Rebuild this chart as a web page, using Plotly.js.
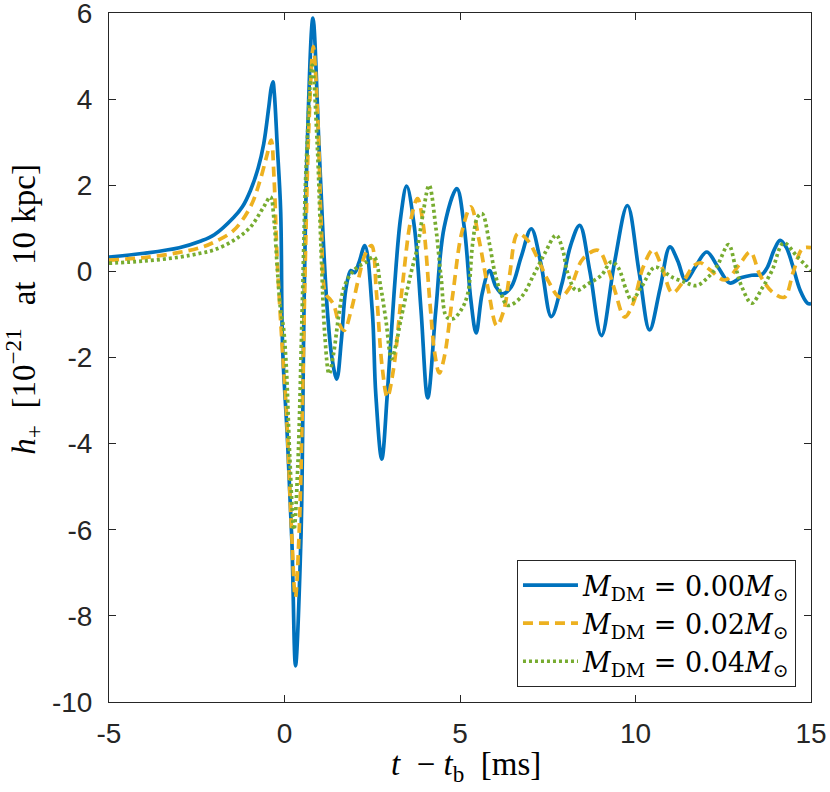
<!DOCTYPE html>
<html>
<head>
<meta charset="utf-8">
<script src="https://cdn.plot.ly/plotly-3.0.1.min.js"></script>
<style>
  html, body { margin: 0; padding: 0; background: #fff; }
  #chart { width: 830px; height: 792px; }
</style>
</head>
<body>
<div id="chart"></div>
<script>
// ── Data (t - t_b in ms, h+ in 1e-21) ────────────────────────────────
const t00 = [-5, -4, -3, -2.4, -2, -1.45, -1.2, -0.97, -0.75, -0.59, -0.45, -0.38, -0.33, -0.29, -0.21, -0.11,
  -0.07, -0.04, 0.086, 0.21, 0.314, 0.466, 0.514, 0.54, 0.65, 0.81, 0.98, 1.1, 1.22, 1.35, 1.49, 1.62, 1.75,
  1.89, 2.0, 2.12, 2.29, 2.5, 2.6, 2.77, 2.93, 3.12, 3.31, 3.48, 3.7, 3.89, 4.08, 4.31, 4.55, 4.91, 5.12, 5.31,
  5.46, 5.63, 5.84, 6.02, 6.2, 6.46, 6.74, 7.03, 7.3, 7.6, 7.9, 8.15, 8.41, 8.7, 9.03, 9.4, 9.77, 10.1, 10.4,
  10.7, 10.98, 11.2, 11.43, 11.7, 12.03, 12.35, 12.69, 13.0, 13.31, 13.6, 13.76, 13.95, 14.12, 14.3, 14.46,
  14.69, 14.9, 15];
const h00 = [0.33, 0.42, 0.55, 0.7, 0.85, 1.25, 1.5, 1.88, 2.4, 2.97, 3.8, 4.25, 4.40, 4.13, 2.97, 1.42,
  -1.2, -2.07, -3.93, -6.26, -9.16, -6.26, -3.93, -1.8, 2.97, 5.88, 2.97, 0.8, -0.9, -2.0, -2.5, -1.6, -0.4,
  0.02, -0.03, 0.2, 0.6, -0.91, -2.84, -4.36, -2.84, -0.52, 1.26, 1.98, 1.03, -0.91, -2.94, -0.91, 1.03, 1.92, 1.03, -0.67,
  -1.43, -0.52, 0.02, -0.35, -0.52, -0.36, 0.33, 0.99, 0.2, -1.05, -0.3, 0.6, 1.07, 0.0, -1.49, 0.2, 1.53, 0.0, -1.36,
  -0.4, 0.57, 0.25, -0.21, 0.1, 0.45, 0.1, -0.27, -0.15, -0.09, -0.07, 0.1, 0.5, 0.72, 0.55, 0.18,
  -0.44, -0.74, -0.75];

const t02 = [-5, -4, -3, -2.4, -2, -1.45, -0.97, -0.7, -0.5, -0.38, -0.3, -0.21, -0.07, 0.05, 0.2, 0.31, 0.42,
  0.5, 0.6, 0.7, 0.82, 0.95, 1.05, 1.17, 1.3, 1.41, 1.55, 1.7, 1.9, 2.1, 2.3, 2.48, 2.62, 2.78, 2.93, 3.1, 3.35,
  3.6, 3.79, 3.95, 4.15, 4.28, 4.41, 4.55, 4.8, 5.05, 5.31, 5.55, 5.8, 6.05, 6.25, 6.41, 6.65, 6.93, 7.22, 7.5,
  7.85, 8.15, 8.5, 8.93, 9.2, 9.41, 9.69, 9.93, 10.22, 10.5, 10.75, 11.05, 11.35, 11.65, 11.85, 12.1, 12.55,
  12.98, 13.27, 13.55, 13.9, 14.24, 14.5, 14.76, 15];
const h02 = [0.26, 0.32, 0.44, 0.55, 0.68, 0.95, 1.5, 2.1, 2.7, 3.05, 2.2, 0.3, -1.68, -3.2, -6.0, -7.57, -6.0,
  -3.5, 0.5, 3.5, 5.22, 3.5, 1.0, -0.52, -0.65, -0.79, -1.2, -1.37, -0.9, -0.2, 0.4, 0.6, -0.5, -2.2, -2.92, -2.3, -0.4,
  1.2, 1.69, 1.1, -0.8, -1.9, -2.36, -2.0, -0.5, 0.9, 1.5, 0.7, -0.4, -1.26, -0.9, -0.1, 0.88, 0.72, 0.29, -0.2,
  -0.6, -0.35, 0.29, 0.49, 0.1, -0.44, -1.06, -0.75, 0.1, 0.5, 0.1, -0.5, -0.25, 0.12, 0.2, 0.05, -0.2,
  0.18, 0.45, -0.09, -0.48, -0.6, 0.0, 0.53, 0.55];

const t04 = [-5, -4, -3, -2.4, -2, -1.45, -0.97, -0.59, -0.4, -0.3, -0.2, -0.11, -0.03, 0.05, 0.15, 0.27, 0.38,
  0.5, 0.62, 0.79, 0.93, 1.05, 1.15, 1.27, 1.4, 1.55, 1.7, 1.9, 2.08, 2.3, 2.55, 2.74, 2.89, 3.05, 3.2, 3.31, 3.6,
  3.79, 3.93, 4.12, 4.31, 4.46, 4.62, 4.8, 5.03, 5.22, 5.36, 5.5, 5.63, 5.84, 5.98, 6.17, 6.36, 6.74, 7.12, 7.41,
  7.74, 7.93, 8.06, 8.31, 8.65, 9.03, 9.31, 9.5, 9.74, 9.89, 10.17, 10.55, 10.8, 11.03, 11.4, 11.74, 12.05,
  12.31, 12.65, 12.85, 13.03, 13.31, 13.6, 13.89, 14.22, 14.6, 15];
const h04 = [0.19, 0.24, 0.33, 0.42, 0.5, 0.72, 1.03, 1.5, 1.73, 1.2, 0.0, -0.9, -1.3, -2.2, -4.3, -6.0, -4.5,
  -1.0, 2.5, 4.79, 3.0, 0.3, -1.5, -2.38, -1.9, -1.0, -0.36, -0.05, 0.10, 0.2, 0.33, -0.36, -1.14, -2.03, -1.6, -1.14, -0.05,
  0.57, 1.26, 2.0, 1.03, -0.13, -1.06, -1.1, -0.9, -0.52, 0.64, 1.26, 1.34, 0.64, 0.02, -0.52, -0.79, -0.6, -0.05, 0.41,
  0.84, 0.49, -0.02, -0.44, -0.29, -0.09, 0.22, 0.1, -0.44, -0.67, -0.36, 0.10, 0.0, -0.13, -0.25, -0.33, -0.15,
  0.1, 0.62, 0.1, -0.36, -0.74, -0.4, 0.02, 0.66, 0.35, 0.01];

const seriesNames = [
  "<i>M</i><sub>DM</sub> = 0.00<i>M</i><sub>⊙</sub>",
  "<i>M</i><sub>DM</sub> = 0.02<i>M</i><sub>⊙</sub>",
  "<i>M</i><sub>DM</sub> = 0.04<i>M</i><sub>⊙</sub>",
];

const xTicks = [-5, 0, 5, 10, 15];
const xTickText = ["-5", "0", "5", "10", "15"];
const yTicks = [-10, -8, -6, -4, -2, 0, 2, 4, 6];
const yTickText = ["-10", "-8", "-6", "-4", "-2", "0", "2", "4", "6"];

const xLabel = "<i>t</i>\u2002− <i>t</i><sub>b</sub>\u2002[ms]";
const yLabel = "<i>h</i><sub>+</sub>\u2002[10<sup>−21</sup>\u2002\u2009at\u2002" +
  "10\u2009\u200akpc]";

// ── Styling ─────────────────────────────────────────────────────────
const AXIS_COLOR = "#262626";
const SERIF = "'Liberation Serif', 'DejaVu Serif', serif";
const LEGEND_SERIF = "'DejaVu Serif', 'Liberation Serif', serif";
const SANS = "'Liberation Sans', Arial, sans-serif";

function curve(x, y, name, color, dash) {
  return {
    x, y, name,
    type: "scatter",
    mode: "lines",
    line: { color, width: 3.7, dash, shape: "spline", smoothing: 1 },
    hoverinfo: "skip",
  };
}

const traces = [
  curve(t00, h00, seriesNames[0], "#0072BD", "solid"),
  curve(t02, h02, seriesNames[1], "#EDB120", "10px,6px"),
  curve(t04, h04, seriesNames[2], "#77AC30", "3px,3px"),
];

const axisCommon = {
  ticks: "inside",
  ticklen: 7,
  tickwidth: 1,
  tickcolor: AXIS_COLOR,
  showline: true,
  linecolor: AXIS_COLOR,
  linewidth: 1,
  mirror: "ticks",
  showgrid: false,
  zeroline: false,
  ticklabeloverflow: "allow",
  tickfont: { family: SANS, size: 28, color: AXIS_COLOR },
};

const layout = {
  width: 830,
  height: 792,
  margin: { l: 109, r: 19, t: 13, b: 90, pad: 0 },
  paper_bgcolor: "#fff",
  plot_bgcolor: "#fff",
  showlegend: true,
  xaxis: Object.assign({}, axisCommon, {
    range: [-5, 15],
    tickmode: "array",
    tickvals: xTicks,
    ticktext: xTickText,
    ticklabelstandoff: 6,
    title: { text: "" },
  }),
  yaxis: Object.assign({}, axisCommon, {
    range: [-10, 6],
    tickmode: "array",
    tickvals: yTicks,
    ticktext: yTickText,
    ticklabelstandoff: 10,
    title: { text: "" },
  }),
  // axis labels placed as in the reference (its y label sits above the axis centre)
  annotations: [
    {
      text: xLabel,
      xref: "paper", yref: "paper",
      x: 0.509, y: -0.093,
      xanchor: "center", yanchor: "middle",
      showarrow: false,
      font: { family: SERIF, size: 33, color: "#000" },
    },
    {
      text: yLabel,
      xref: "paper", yref: "paper",
      x: -0.122, y: 0.57,
      xanchor: "center", yanchor: "middle",
      textangle: -90,
      showarrow: false,
      font: { family: SERIF, size: 33, color: "#000" },
    },
  ],
  legend: {
    x: 0.9786,
    y: 0.0218,
    xanchor: "right",
    yanchor: "bottom",
    bgcolor: "#fff",
    bordercolor: AXIS_COLOR,
    borderwidth: 1,
    itemwidth: 55,
    tracegroupgap: 0,
    font: { family: LEGEND_SERIF, size: 27, color: "#000" },
  },
};

Plotly.newPlot("chart", traces, layout, { displayModeBar: false, staticPlot: true });
</script>
</body>
</html>
